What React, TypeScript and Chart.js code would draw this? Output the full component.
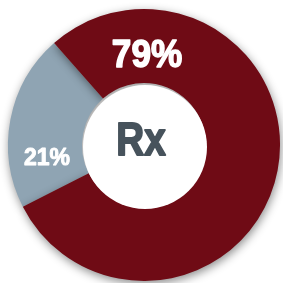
import React, { useEffect, useRef } from "react";
import { Chart, registerables } from "chart.js";

Chart.register(...registerables);

const categories = ["Other", "Rx"];
const values = [21, 79];
const valueLabels = ["21%", "79%"];
const centerLabel = "Rx";
const colors = ["#8fa4b3", "#6f0b15"];

const FONT = '"Liberation Sans", Arial, sans-serif';

const shadowPlugin = {
  id: "ringShadow",
  beforeDatasetsDraw(chart: any) {
    const ctx = chart.ctx;
    ctx.save();
    ctx.shadowColor = "rgba(0,0,0,0.45)";
    ctx.shadowBlur = 10;
    ctx.shadowOffsetX = 1;
    ctx.shadowOffsetY = 3;
  },
  afterDatasetsDraw(chart: any) {
    chart.ctx.restore();
  },
};

const labelPlugin = {
  id: "ringLabels",
  afterDraw(chart: any) {
    const ctx = chart.ctx;
    const meta = chart.getDatasetMeta(0);
    const arc0 = meta.data[0];
    const cx = arc0.x;
    const cy = arc0.y;
    const inner = arc0.innerRadius;
    ctx.save();
    ctx.fillStyle = "#ffffff";
    ctx.beginPath();
    ctx.arc(cx + 1, cy + 2, inner, 0, Math.PI * 2);
    ctx.fill();

    const drawText = (
      text: string,
      x: number,
      y: number,
      size: number,
      sx: number,
      color: string
    ) => {
      ctx.save();
      ctx.translate(x, y);
      ctx.scale(sx, 1);
      ctx.font = `bold ${size}px ${FONT}`;
      ctx.fillStyle = color;
      ctx.strokeStyle = color;
      ctx.lineWidth = size * 0.04;
      ctx.lineJoin = "round";
      ctx.textAlign = "center";
      ctx.textBaseline = "alphabetic";
      ctx.fillText(text, 0, 0);
      ctx.strokeText(text, 0, 0);
      ctx.restore();
    };

    drawText(valueLabels[1], cx + 3, cy - 78, 39, 0.9, "#ffffff");
    drawText(valueLabels[0], cx - 97, cy + 20, 23, 1.0, "#ffffff");
    drawText(centerLabel, cx - 3, cy + 10, 46, 0.84, "#47535c");
    ctx.restore();
  },
};

export default function App() {
  const ref = useRef<HTMLCanvasElement | null>(null);
  useEffect(() => {
    if (!ref.current) return;
    const chart = new Chart(ref.current, {
      type: "doughnut",
      data: {
        labels: categories,
        datasets: [
          {
            data: values,
            backgroundColor: colors,
            borderWidth: 0,
            hoverOffset: 0,
          },
        ],
      },
      options: {
        responsive: false,
        animation: false,
        cutout: 62,
        rotation: -117,
        layout: { padding: { left: 8, right: 3, top: 9, bottom: 2 } },
        plugins: {
          legend: { display: false },
          tooltip: { enabled: false },
        },
        events: [],
      },
      plugins: [shadowPlugin, labelPlugin],
    });
    let alive = true;
    const fonts = (document as any).fonts;
    if (fonts && fonts.load) {
      Promise.all([
        fonts.load(`bold 40px ${FONT}`),
        fonts.load(`40px ${FONT}`),
      ])
        .then(() => {
          if (alive) chart.draw();
        })
        .catch(() => {});
    }
    return () => {
      alive = false;
      chart.destroy();
    };
  }, []);
  return (
    <div style={{ position: "fixed", left: 0, top: 0, width: 283, height: 283, background: "#fff" }}>
      <canvas ref={ref} width={283} height={283} style={{ display: "block" }} />
    </div>
  );
}
